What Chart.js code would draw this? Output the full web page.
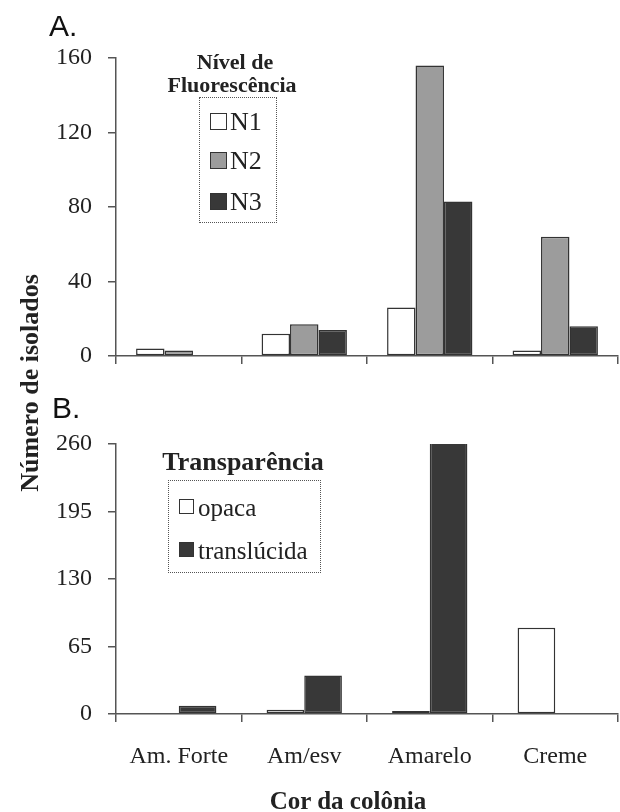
<!DOCTYPE html>
<html>
<head>
<meta charset="utf-8">
<script src="https://cdn.jsdelivr.net/npm/chart.js@4.4.1/dist/chart.umd.min.js"></script>
<style>
  html, body { margin: 0; padding: 0; background: #fff; }
  #wrap { position: relative; width: 620px; height: 812px; overflow: hidden; background: #fff; }
  canvas { position: absolute; left: 0; }
  .serif { font-family: "Liberation Serif", "Times New Roman", serif; color: #222; }
  .abs { position: absolute; white-space: nowrap; }
  .panel { font-family: "Liberation Sans", Arial, sans-serif; font-size: 30px; color: #111; line-height: 1; }
  .legbox { position: absolute; border: 1px dotted #555; }
  .sw { position: absolute; box-sizing: border-box; border: 1.5px solid #333; }
</style>
</head>
<body>
<div id="wrap">
  <canvas id="chartA" width="620" height="380" style="top:0"></canvas>
  <canvas id="chartB" width="620" height="432" style="top:380px"></canvas>
</div>
<script>
// ---- data ----
const categories = ['Am. Forte', 'Am/esv', 'Amarelo', 'Creme'];
const fluorLevels = ['N1', 'N2', 'N3'];
const n1Values = [4, 12, 26, 3];
const n2Values = [3, 17, 156, 64];
const n3Values = [0, 14, 83, 16];
const transparencyTypes = ['opaca', 'translúcida'];
const opacaValues = [0, 4, 3, 83];
const translucidaValues = [8, 37, 262, 0];
const ticksA = [0, 40, 80, 120, 160];
const ticksB = [0, 65, 130, 195, 260];
const legendTitleA = ['Nível de', 'Fluorescência'];
const legendTitleB = 'Transparência';
const yTitle = 'Número de isolados';
const xTitle = 'Cor da colônia';

// ---- styles ----
const fillsA = ['#ffffff', '#9c9c9c', '#383838'];
const fillsB = ['#ffffff', '#383838'];
const edge = '#333333';
const axisColor = '#555555';
const serif = '"Liberation Serif", "Times New Roman", serif';

function yScale(ticks, width) {
  return {
    min: ticks[0], max: ticks[ticks.length - 1],
    afterBuildTicks: (s) => { s.ticks = ticks.map(v => ({ value: v })); },
    ticks: { font: { family: serif, size: 24 }, color: '#222', padding: 16 },
    grid: { drawOnChartArea: false, drawTicks: true, tickLength: 8, color: axisColor, lineWidth: 1.5 },
    border: { display: true, color: axisColor, width: 1.5 },
    afterFit: (s) => { s.width = width; s.paddingTop = 0; s.paddingBottom = 0; }
  };
}

function xScale(showLabels, height) {
  return {
    offset: true,
    ticks: { display: showLabels, font: { family: serif, size: 24 }, color: '#222', padding: 20, maxRotation: 0, autoSkip: false },
    grid: { offset: true, drawOnChartArea: false, drawTicks: true, tickLength: 8, color: axisColor, lineWidth: 1.5 },
    border: { display: true, color: axisColor, width: 1.5 },
    afterFit: (s) => { s.height = height; s.paddingLeft = 0; s.paddingRight = 0; }
  };
}

const common = {
  responsive: false,
  animation: false,
  devicePixelRatio: 1,
  plugins: { legend: { display: false }, tooltip: { enabled: false } },
};

const seriesA = [n1Values, n2Values, n3Values];
new Chart(document.getElementById('chartA'), {
  type: 'bar',
  data: {
    labels: categories,
    datasets: fluorLevels.map((name, i) => ({
      label: name, data: seriesA[i],
      backgroundColor: fillsA[i], borderColor: edge, borderWidth: 1.5, borderSkipped: false,
      categoryPercentage: 0.68, barPercentage: 1.0
    }))
  },
  options: Object.assign({}, common, {
    layout: { padding: { top: 58, right: 2, left: 0, bottom: 0 } },
    scales: { x: xScale(false, 24), y: yScale(ticksA, 116) }
  })
});

const seriesB = [opacaValues, translucidaValues];
new Chart(document.getElementById('chartB'), {
  type: 'bar',
  data: {
    labels: categories,
    datasets: transparencyTypes.map((name, i) => ({
      label: name, data: seriesB[i],
      backgroundColor: fillsB[i], borderColor: edge, borderWidth: 1.5, borderSkipped: false,
      categoryPercentage: 0.6, barPercentage: 1.0
    }))
  },
  options: Object.assign({}, common, {
    layout: { padding: { top: 64, right: 2, left: 0, bottom: 0 } },
    scales: { x: xScale(true, 98), y: yScale(ticksB, 116) }
  })
});

// ---- text & legends (HTML, built from the arrays above) ----
const wrap = document.getElementById('wrap');
function addText(txt, cls, css) {
  const d = document.createElement('div');
  d.className = 'abs ' + cls;
  d.textContent = txt;
  Object.assign(d.style, css);
  wrap.appendChild(d);
  return d;
}

addText('A.', 'panel', { left: '49px', top: '11px' });
addText('B.', 'panel', { left: '52px', top: '393px' });

addText(yTitle, 'serif', {
  left: '30px', top: '383px', fontSize: '26px', fontWeight: 'bold',
  transform: 'translate(-50%, -50%) rotate(-90deg)', lineHeight: '1'
});
addText(xTitle, 'serif', {
  left: '348px', top: '800px', fontSize: '25px', fontWeight: 'bold',
  transform: 'translate(-50%, -50%)', lineHeight: '1'
});

addText(legendTitleA[0], 'serif', { left: '235px', top: '62px', fontSize: '22px', fontWeight: 'bold', transform: 'translate(-50%,-50%)', lineHeight: '1' });
addText(legendTitleA[1], 'serif', { left: '232px', top: '85px', fontSize: '22px', fontWeight: 'bold', transform: 'translate(-50%,-50%)', lineHeight: '1' });
const boxA = document.createElement('div');
boxA.className = 'legbox';
Object.assign(boxA.style, { left: '199px', top: '97px', width: '76px', height: '124px' });
wrap.appendChild(boxA);
const rowsA = [122, 161, 202];
fluorLevels.forEach((name, i) => {
  const sw = document.createElement('div');
  sw.className = 'sw';
  Object.assign(sw.style, { left: '210px', top: (rowsA[i] - 9) + 'px', width: '17px', height: '17px', background: fillsA[i] });
  wrap.appendChild(sw);
  addText(name, 'serif', { left: '230px', top: rowsA[i] + 'px', fontSize: '26px', transform: 'translateY(-50%)', lineHeight: '1' });
});

addText(legendTitleB, 'serif', { left: '243px', top: '462px', fontSize: '26px', fontWeight: 'bold', transform: 'translate(-50%,-50%)', lineHeight: '1' });
const boxB = document.createElement('div');
boxB.className = 'legbox';
Object.assign(boxB.style, { left: '168px', top: '480px', width: '151px', height: '91px' });
wrap.appendChild(boxB);
const rowsB = [507, 550];
transparencyTypes.forEach((name, i) => {
  const sw = document.createElement('div');
  sw.className = 'sw';
  Object.assign(sw.style, { left: '179px', top: (rowsB[i] - 8) + 'px', width: '15px', height: '15px', background: fillsB[i] });
  wrap.appendChild(sw);
  addText(name, 'serif', { left: '198px', top: rowsB[i] + 'px', fontSize: '25px', transform: 'translateY(-50%)', lineHeight: '1' });
});
</script>
</body>
</html>
